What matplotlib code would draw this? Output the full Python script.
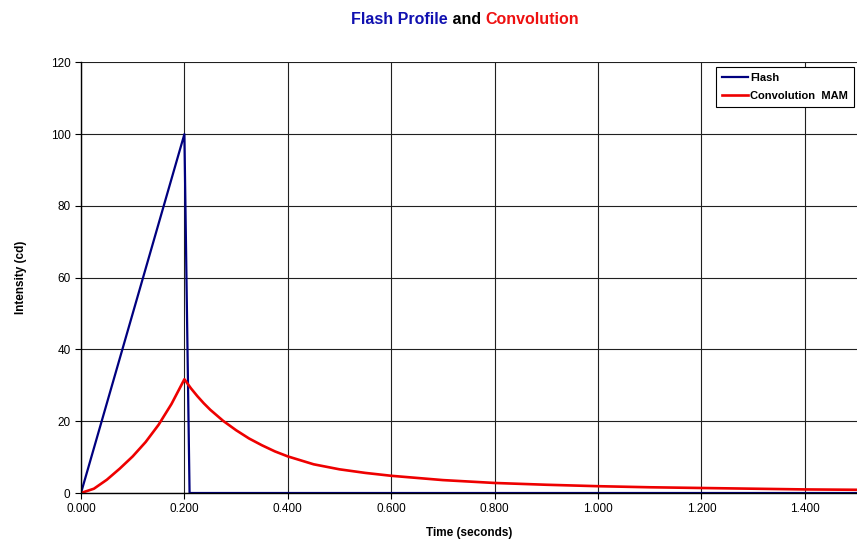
import matplotlib
matplotlib.use('Agg')
import matplotlib.pyplot as plt

plt.rcParams['font.family'] = ['Liberation Sans', 'DejaVu Sans']

# Flash profile (cd)
flash_t = [0.0, 0.05, 0.10, 0.15, 0.20, 0.21, 0.40, 0.80, 1.20, 1.50]
flash_i = [0.0, 25.0, 50.0, 75.0, 100.0, 0.0, 0.0, 0.0, 0.0, 0.0]

# Convolution MAM (cd)
conv_t = [0.0, 0.025, 0.05, 0.075, 0.10, 0.125, 0.15, 0.175, 0.20,
          0.2125, 0.225, 0.2375, 0.25, 0.275, 0.30, 0.325, 0.35, 0.375,
          0.40, 0.45, 0.50, 0.55, 0.60, 0.70, 0.80, 0.90, 1.00, 1.10,
          1.20, 1.30, 1.40, 1.50]
conv_i = [0.0, 1.2, 3.7, 6.8, 10.2, 14.2, 19.0, 24.8, 31.7,
          29.2, 27.0, 25.0, 23.2, 20.1, 17.5, 15.2, 13.3, 11.6,
          10.2, 8.0, 6.6, 5.6, 4.8, 3.6, 2.8, 2.3, 1.9, 1.6,
          1.4, 1.2, 1.0, 0.9]

x_ticks = [0.0, 0.2, 0.4, 0.6, 0.8, 1.0, 1.2, 1.4]
y_ticks = [0, 20, 40, 60, 80, 100, 120]

fig = plt.figure(figsize=(8.57, 5.41), dpi=100)
ax = fig.add_axes([0.0945, 0.0887, 0.905, 0.796])

ax.plot(flash_t, flash_i, color='#00007F', lw=1.6, label='Flash')
ax.plot(conv_t, conv_i, color='#EE0000', lw=1.9, label='Convolution  MAM')

ax.set_xlim(0, 1.5)
ax.set_ylim(0, 120)
ax.set_xticks(x_ticks)
ax.set_xticklabels([f'{v:.3f}' for v in x_ticks])
ax.set_yticks(y_ticks)
ax.tick_params(labelsize=8.5, direction='out', length=4, color='black')
ax.grid(True, color='#202020', lw=0.8)
ax.set_axisbelow(True)
for side in ['top', 'right']:
    ax.spines[side].set_visible(False)
for side in ['left', 'bottom']:
    ax.spines[side].set_color('black')
    ax.spines[side].set_linewidth(1.0)

ax.set_xlabel('Time (seconds)', fontsize=8.5, fontweight='bold', labelpad=8)
ax.set_ylabel('Intensity (cd)', fontsize=8.5, fontweight='bold', labelpad=17)

leg = ax.legend(loc='upper right', bbox_to_anchor=(0.997, 0.99),
                borderaxespad=0.0,
                prop={'weight': 'bold', 'size': 8}, fancybox=False,
                framealpha=1, edgecolor='black', handlelength=2.3,
                handletextpad=0.2, borderpad=0.55, labelspacing=0.75)
leg.get_frame().set_linewidth(0.8)

# titolo a colori
t1 = fig.text(0.41, 0.95, 'Flash Profile', color='#1010B0', fontsize=11.5,
              fontweight='bold', va='bottom')
a2 = ax.annotate(' and ', xycoords=t1, xy=(1, 0), va='bottom', color='black',
                 fontsize=11.5, fontweight='bold', annotation_clip=False)
a3 = ax.annotate('Convolution', xycoords=a2, xy=(1, 0), va='bottom',
                 color='#EE1111', fontsize=11.5, fontweight='bold',
                 annotation_clip=False)

fig.savefig('out.png', dpi=100)
